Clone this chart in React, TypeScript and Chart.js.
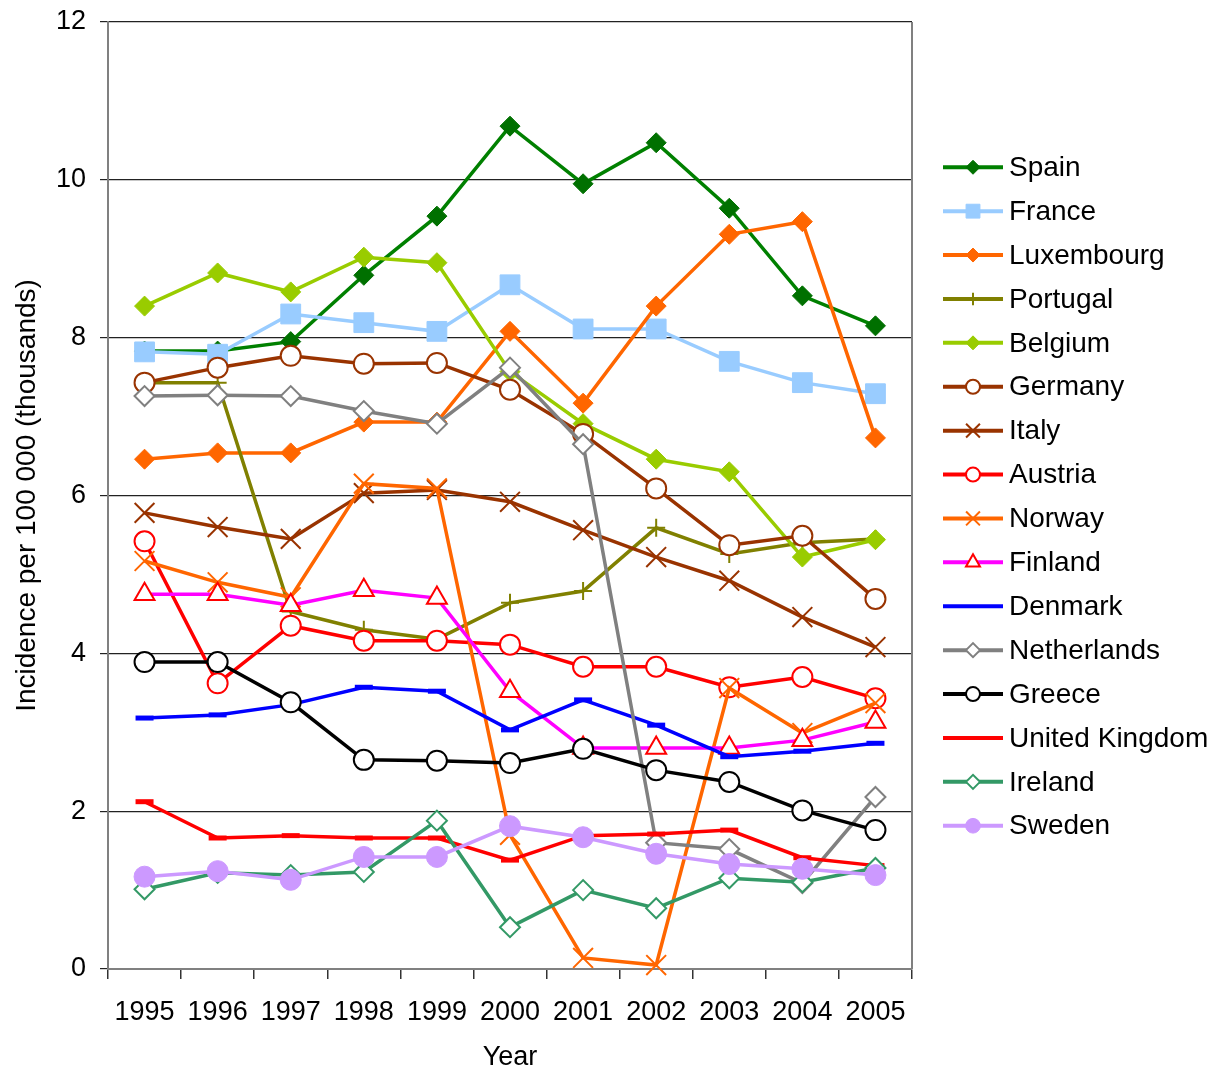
import React, { useEffect, useRef } from "react";
import { Chart, registerables, PointElement } from "chart.js";

Chart.register(...registerables);

const years = ["1995", "1996", "1997", "1998", "1999", "2000", "2001", "2002", "2003", "2004", "2005"];
const yTicks = [0, 2, 4, 6, 8, 10, 12];

const spain = [7.83, 7.83, 7.95, 8.79, 9.54, 10.68, 9.95, 10.47, 9.64, 8.53, 8.15];
const france = [7.82, 7.79, 8.3, 8.19, 8.08, 8.67, 8.11, 8.11, 7.7, 7.43, 7.29];
const luxembourg = [6.46, 6.54, 6.54, 6.93, 6.93, 8.08, 7.17, 8.4, 9.31, 9.47, 6.73];
const portugal = [7.43, 7.43, 4.53, 4.3, 4.18, 4.64, 4.79, 5.59, 5.26, 5.4, 5.45];
const belgium = [8.4, 8.82, 8.58, 9.02, 8.95, 7.57, 6.91, 6.46, 6.3, 5.22, 5.44];
const germany = [7.43, 7.62, 7.77, 7.67, 7.68, 7.34, 6.78, 6.09, 5.37, 5.49, 4.69];
const italy = [5.78, 5.6, 5.45, 6.03, 6.07, 5.92, 5.56, 5.22, 4.92, 4.46, 4.08];
const austria = [5.42, 3.62, 4.35, 4.16, 4.16, 4.11, 3.83, 3.83, 3.57, 3.7, 3.43];
const norway = [5.17, 4.9, 4.71, 6.15, 6.09, 1.7, 0.14, 0.05, 3.56, 2.99, 3.37];
const finland = [4.75, 4.75, 4.61, 4.8, 4.7, 3.52, 2.8, 2.8, 2.8, 2.9, 3.13];
const denmark = [3.18, 3.22, 3.35, 3.57, 3.52, 3.03, 3.41, 3.09, 2.69, 2.76, 2.86];
const netherlands = [7.26, 7.27, 7.26, 7.07, 6.91, 7.62, 6.65, 1.6, 1.52, 1.09, 2.18];
const greece = [3.89, 3.89, 3.38, 2.65, 2.64, 2.61, 2.79, 2.52, 2.37, 2.01, 1.76];
const unitedKingdom = [2.12, 1.66, 1.69, 1.66, 1.66, 1.38, 1.69, 1.71, 1.76, 1.41, 1.31];
const ireland = [1.01, 1.22, 1.19, 1.23, 1.88, 0.53, 1.0, 0.77, 1.15, 1.1, 1.28];
const sweden = [1.17, 1.24, 1.13, 1.42, 1.42, 1.81, 1.67, 1.46, 1.33, 1.27, 1.19];

type S = {
  label: string;
  data: number[];
  line: string;
  fill: string;
  border: string;
  style: string;
  r: number;
  bw: number;
};

const series: S[] = [
  { label: "Spain", data: spain, line: "#008000", fill: "#007000", border: "#007000", style: "rectRot", r: 10, bw: 1 },
  { label: "France", data: france, line: "#99CCFF", fill: "#99CCFF", border: "#99CCFF", style: "rect", r: 14, bw: 1 },
  { label: "Luxembourg", data: luxembourg, line: "#FF6600", fill: "#FF6600", border: "#FF6600", style: "rectRot", r: 10, bw: 1 },
  { label: "Portugal", data: portugal, line: "#808000", fill: "#808000", border: "#808000", style: "cross", r: 9, bw: 2 },
  { label: "Belgium", data: belgium, line: "#99CC00", fill: "#99CC00", border: "#99CC00", style: "rectRot", r: 10, bw: 1 },
  { label: "Germany", data: germany, line: "#993300", fill: "#FFFFFF", border: "#993300", style: "circle", r: 10, bw: 2 },
  { label: "Italy", data: italy, line: "#993300", fill: "#993300", border: "#993300", style: "crossRot", r: 14, bw: 2 },
  { label: "Austria", data: austria, line: "#FF0000", fill: "#FFFFFF", border: "#FF0000", style: "circle", r: 10, bw: 2 },
  { label: "Norway", data: norway, line: "#FF6600", fill: "#FF6600", border: "#FF6600", style: "crossRot", r: 14, bw: 2 },
  { label: "Finland", data: finland, line: "#FF00FF", fill: "#FFFFFF", border: "#FF0000", style: "triangle", r: 11.5, bw: 2 },
  { label: "Denmark", data: denmark, line: "#0000FF", fill: "#0000FF", border: "#0000FF", style: "line", r: 9, bw: 5 },
  { label: "Netherlands", data: netherlands, line: "#808080", fill: "#FFFFFF", border: "#808080", style: "rectRot", r: 10, bw: 2 },
  { label: "Greece", data: greece, line: "#000000", fill: "#FFFFFF", border: "#000000", style: "circle", r: 10, bw: 2 },
  { label: "United Kingdom", data: unitedKingdom, line: "#FF0000", fill: "#FF0000", border: "#FF0000", style: "line", r: 9, bw: 5 },
  { label: "Ireland", data: ireland, line: "#339966", fill: "#FFFFFF", border: "#339966", style: "rectRot", r: 10, bw: 2 },
  { label: "Sweden", data: sweden, line: "#CC99FF", fill: "#CC99FF", border: "#CC99FF", style: "circle", r: 10.5, bw: 1 },
];

const FONT = "'Liberation Sans', Arial, sans-serif";

const extrasPlugin = {
  id: "extras",
  afterDraw(chart: any) {
    const { ctx, chartArea } = chart;
    ctx.save();
    // right border of plot area
    ctx.strokeStyle = "#808080";
    ctx.lineWidth = 2;
    ctx.beginPath();
    ctx.moveTo(chartArea.right, chartArea.top);
    ctx.lineTo(chartArea.right, chartArea.bottom);
    ctx.stroke();

    // legend
    const n = series.length;
    const spacing = 43.9;
    const midY = (chartArea.top + chartArea.bottom) / 2 + 1;
    const startY = midY - ((n - 1) * spacing) / 2;
    const x0 = chartArea.right + 31;
    const x1 = x0 + 60;
    const area = { left: -1e4, top: -1e4, right: 1e4, bottom: 1e4 };
    series.forEach((s, i) => {
      const y = startY + i * spacing;
      ctx.strokeStyle = s.line;
      ctx.lineWidth = 4;
      ctx.lineCap = "butt";
      ctx.beginPath();
      ctx.moveTo(x0, y);
      ctx.lineTo(x1, y);
      ctx.stroke();
      if (s.style !== "line") {
        const p: any = new PointElement({});
        p.x = (x0 + x1) / 2;
        p.y = y;
        p.options = {
          radius: s.r * 0.7,
          pointStyle: s.style,
          rotation: 0,
          borderWidth: s.bw,
          backgroundColor: s.fill,
          borderColor: s.border,
        };
        p.draw(ctx, area);
      }
      ctx.fillStyle = "#000";
      ctx.font = `28px ${FONT}`;
      ctx.textAlign = "left";
      ctx.textBaseline = "middle";
      ctx.fillText(s.label, x1 + 6, y + 1);
    });
    ctx.restore();
  },
};

export default function App() {
  const ref = useRef<HTMLCanvasElement | null>(null);
  useEffect(() => {
    document.body.style.margin = "0";
    const canvas = ref.current;
    if (!canvas) return;
    const n = series.length;
    const chart = new Chart(canvas, {
      type: "line",
      data: {
        labels: years,
        datasets: series.map((s, i) => ({
          label: s.label,
          data: s.data,
          borderColor: s.line,
          backgroundColor: s.fill,
          borderWidth: 3.5,
          pointStyle: s.style as any,
          pointRadius: s.r,
          pointBackgroundColor: s.fill,
          pointBorderColor: s.border,
          pointBorderWidth: s.bw,
          tension: 0,
          fill: false,
          clip: false as any,
          order: n - i,
        })),
      },
      options: {
        animation: false,
        responsive: false,
        maintainAspectRatio: false,
        events: [],
        layout: { padding: { left: 0, top: 22, right: 306, bottom: 0 } },
        plugins: {
          legend: { display: false },
          tooltip: { enabled: false },
          title: { display: false },
        },
        scales: {
          x: {
            type: "category",
            offset: true,
            grid: {
              display: true,
              drawOnChartArea: false,
              drawTicks: true,
              tickLength: 10,
              offset: true,
              color: "#333333",
              lineWidth: 1.5,
            },
            border: { display: true, color: "#808080", width: 2 },
            ticks: {
              color: "#000",
              font: { family: FONT, size: 27 },
              padding: 17,
              maxRotation: 0,
              autoSkip: false,
            },
            title: {
              display: true,
              text: "Year",
              color: "#000",
              font: { family: FONT, size: 27, lineHeight: 0.75 },
              padding: { top: 0, bottom: 2 },
            },
            afterFit(scale: any) {
              scale.height = 101;
            },
          },
          y: {
            type: "linear",
            min: 0,
            max: 12,
            afterBuildTicks(scale: any) {
              scale.ticks = yTicks.map((v) => ({ value: v }));
            },
            grid: {
              color: "#222222",
              lineWidth: 1.2,
              drawTicks: true,
              tickLength: 8,
            },
            border: { display: true, color: "#808080", width: 2 },
            ticks: {
              color: "#000",
              font: { family: FONT, size: 27, lineHeight: 0.5 },
              padding: 14,
            },
            title: {
              display: true,
              text: "Incidence per 100 000 (thousands)",
              color: "#000",
              font: { family: FONT, size: 28, lineHeight: 1 },
              padding: { top: 13, bottom: 0 },
            },
            afterFit(scale: any) {
              scale.width = 108;
            },
          },
        },
      },
      plugins: [extrasPlugin],
    });
    return () => chart.destroy();
  }, []);
  return (
    <div style={{ width: 1218, height: 1070, position: "relative" }}>
      <canvas ref={ref} width={1218} height={1070} style={{ display: "block", width: 1218, height: 1070 }} />
    </div>
  );
}
